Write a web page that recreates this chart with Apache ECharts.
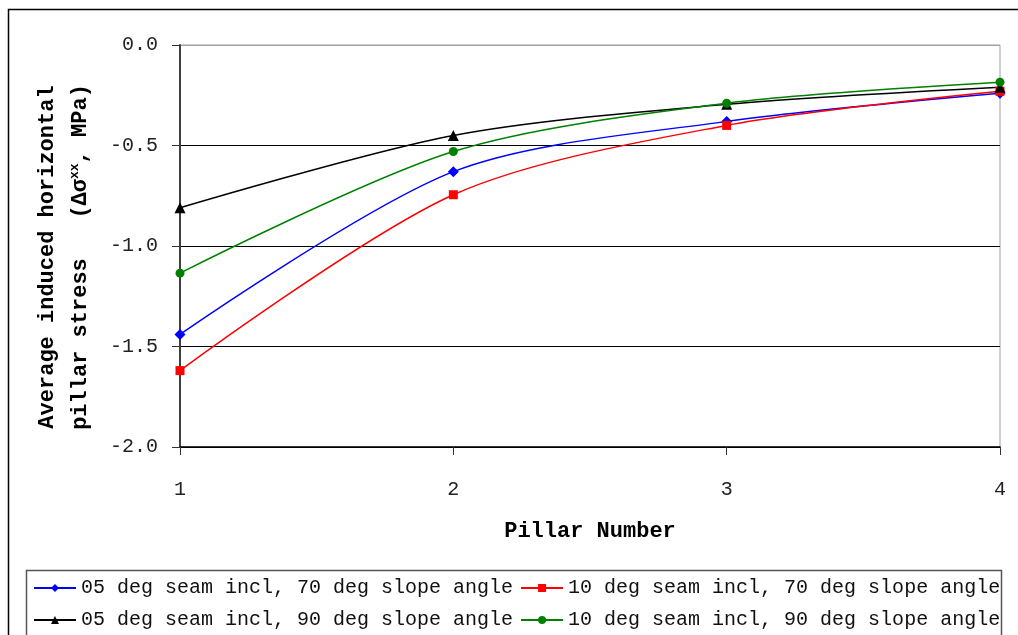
<!DOCTYPE html>
<html>
<head>
<meta charset="utf-8">
<script src="https://cdn.jsdelivr.net/npm/echarts@6/dist/echarts.min.js"></script>
<style>
  html, body { margin: 0; padding: 0; background: #fff; }
  #chart { width: 1018px; height: 635px; }
</style>
</head>
<body>
<div id="chart"></div>
<script>
// Pillar numbers along the x axis
const pillars = ['1', '2', '3', '4'];

// Average induced horizontal pillar stress (MPa) per pillar
const seam05slope70 = [-1.44, -0.63, -0.38, -0.24];
const seam10slope70 = [-1.62, -0.745, -0.40, -0.23];
const seam05slope90 = [-0.81, -0.45, -0.295, -0.21];
const seam10slope90 = [-1.135, -0.53, -0.29, -0.185];

const seriesNames = [
  '05 deg seam incl, 70 deg slope angle',
  '10 deg seam incl, 70 deg slope angle',
  '05 deg seam incl, 90 deg slope angle',
  '10 deg seam incl, 90 deg slope angle'
];

const FONT = '"Liberation Mono", "Courier New", monospace';

function lineSeries(name, data, color, symbol, size) {
  return {
    name: name,
    type: 'line',
    data: data,
    smooth: 0.3,
    symbol: symbol,
    symbolSize: size,
    showSymbol: true,
    lineStyle: { color: color, width: 1.5 },
    itemStyle: { color: color },
    emphasis: { disabled: true }
  };
}

const legendText = { fontFamily: FONT, fontSize: 20, color: '#111' };

const chart = echarts.init(document.getElementById('chart'), null, { renderer: 'canvas' });

chart.setOption({
  animation: false,
  backgroundColor: '#ffffff',
  textStyle: { fontFamily: FONT },
  grid: {
    left: 180, right: 18, top: 45, bottom: 188,
    show: true, borderColor: '#a0a0a0', borderWidth: 1
  },
  xAxis: {
    type: 'category',
    data: pillars,
    boundaryGap: false,
    name: 'Pillar Number',
    nameLocation: 'middle',
    nameGap: 73,
    nameTextStyle: { fontFamily: FONT, fontSize: 22, fontWeight: 'bold', color: '#000' },
    axisLine: { show: true, onZero: false, lineStyle: { color: '#000', width: 1.5 } },
    axisTick: { show: true, alignWithLabel: true, length: 8, inside: false, lineStyle: { color: '#333', width: 1 } },
    axisLabel: { margin: 33, fontFamily: FONT, fontSize: 20, color: '#222' },
    splitLine: { show: false }
  },
  yAxis: {
    type: 'value',
    min: -2,
    max: 0,
    interval: 0.5,
    name: '{t|Average induced horizontal}\n{t|pillar stress   (Δσ}{s|xx}{t|, MPa)}',
    nameLocation: 'middle',
    nameGap: 83,
    nameRotate: 90,
    nameTextStyle: {
      fontFamily: FONT,
      padding: [0, 22, 0, 0],
      rich: {
        t: { fontFamily: FONT, fontSize: 22, fontWeight: 'bold', color: '#000', lineHeight: 33 },
        s: { fontFamily: FONT, fontSize: 13, fontWeight: 'bold', color: '#000', lineHeight: 33, verticalAlign: 'top', padding: [4, 0, 0, 0] }
      }
    },
    axisLine: { show: true, onZero: false, lineStyle: { color: '#404040', width: 2 } },
    axisTick: { show: true, length: 8, inside: false, lineStyle: { color: '#333', width: 1 } },
    axisLabel: {
      margin: 22,
      fontFamily: FONT,
      fontSize: 20,
      color: '#222',
      formatter: function (v) { return v.toFixed(1); }
    },
    splitLine: {
      show: true,
      lineStyle: { color: ['#000', '#000', '#000', '#000', '#a0a0a0'], width: 1 }
    }
  },
  legend: [
    {
      data: [seriesNames[0], seriesNames[1]],
      left: 28, top: 573,
      orient: 'horizontal',
      itemWidth: 42, itemHeight: 10, itemGap: 7,
      textStyle: legendText,
      selectedMode: false
    },
    {
      data: [seriesNames[2], seriesNames[3]],
      left: 28, top: 605,
      orient: 'horizontal',
      itemWidth: 42, itemHeight: 10, itemGap: 7,
      textStyle: legendText,
      selectedMode: false
    }
  ],
  graphic: [
    {
      type: 'rect',
      shape: { x: 8.5, y: 9.5, width: 1100, height: 700 },
      style: { fill: 'none', stroke: '#000', lineWidth: 1.5 },
      silent: true, z: 100
    },
    {
      type: 'rect',
      shape: { x: 26.5, y: 570.5, width: 975, height: 120 },
      style: { fill: 'none', stroke: '#555', lineWidth: 1.5 },
      silent: true, z: 100
    }
  ],
  series: [
    lineSeries(seriesNames[0], seam05slope70, '#0000ff', 'diamond', 11),
    lineSeries(seriesNames[1], seam10slope70, '#ff0000', 'rect', 9),
    lineSeries(seriesNames[2], seam05slope90, '#000000', 'triangle', 11),
    lineSeries(seriesNames[3], seam10slope90, '#008000', 'circle', 9)
  ]
});
</script>
</body>
</html>
